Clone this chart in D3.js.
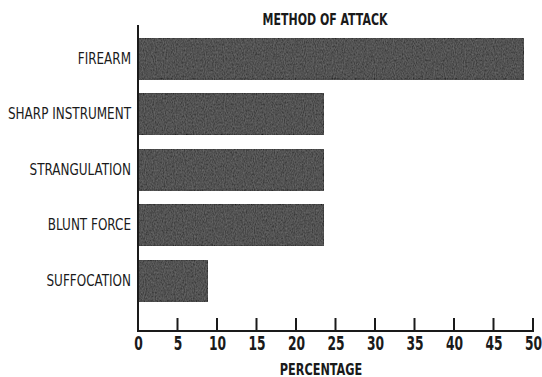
<!DOCTYPE html>
<html>
<head>
<meta charset="utf-8">
<script src="https://cdnjs.cloudflare.com/ajax/libs/d3/7.8.5/d3.min.js"></script>
<style>
  body { margin: 0; background: #fff; }
  svg text { font-family: "DejaVu Sans Condensed", "DejaVu Sans", sans-serif; fill: #1a1a1a; }
</style>
</head>
<body>
<script>
(function(){

    var categories = ["FIREARM", "SHARP INSTRUMENT", "STRANGULATION", "BLUNT FORCE", "SUFFOCATION"];
    var values = [48.8, 23.5, 23.5, 23.5, 8.8];
    var xTicks = [0, 5, 10, 15, 20, 25, 30, 35, 40, 45, 50];

    var width = 542,
        height = 377;

    var svg = d3.select("body")
        .append("svg")
        .attr("width", width)
        .attr("height", height);

    // grainy texture for the bars, like the printed original
    var defs = svg.append("defs");
    var filter = defs.append("filter").attr("id", "grain")
        .attr("x", 0).attr("y", 0).attr("width", 1).attr("height", 1);
    filter.append("feTurbulence")
        .attr("type", "fractalNoise")
        .attr("baseFrequency", "0.9 0.5")
        .attr("numOctaves", 2)
        .attr("seed", 4)
        .attr("result", "noise");
    filter.append("feColorMatrix")
        .attr("in", "noise")
        .attr("type", "matrix")
        .attr("values", "0 0 0 0 0.33  0 0 0 0 0.33  0 0 0 0 0.33  0 0 0 0.5 -0.1")
        .attr("result", "speck");
    filter.append("feComposite")
        .attr("in", "speck")
        .attr("in2", "SourceGraphic")
        .attr("operator", "atop")
        .attr("result", "tex");
    var merge = filter.append("feMerge");
    merge.append("feMergeNode").attr("in", "SourceGraphic");
    merge.append("feMergeNode").attr("in", "tex");

    var x = d3.scaleLinear()
        .domain([0, 50])
        .range([138, 533]);

    var y = d3.scaleBand()
        .domain(categories)
        .range([26.9, 312.2])
        .paddingInner(0.26)
        .paddingOuter(0.2);

    var baseY = 331;

    // squeeze text horizontally to get the narrow poster type
    function narrowText(sel, tx, ty, sx){
        sel.attr("x", 0).attr("y", 0)
            .attr("transform", "translate(" + tx + "," + ty + ") scale(" + sx + ",1)");
    }

    // title
    svg.append("text")
        .attr("text-anchor", "middle")
        .style("font-size", "16.5px")
        .style("font-weight", "bold")
        .text("METHOD OF ATTACK")
        .call(narrowText, 325, 25, 0.74);

    // bars
    svg.selectAll(".bar")
        .data(values)
        .enter()
        .append("rect")
        .attr("class", "bar")
        .attr("x", x(0))
        .attr("y", function(d, i){ return y(categories[i]); })
        .attr("width", function(d){ return x(d) - x(0); })
        .attr("height", y.bandwidth())
        .attr("fill", "#3a3a3a")
        .attr("stroke", "#1e1e1e")
        .attr("stroke-width", 1.2)
        .attr("filter", "url(#grain)");

    // category labels
    svg.selectAll(".cat")
        .data(categories)
        .enter()
        .append("text")
        .attr("class", "cat")
        .attr("dy", "0.36em")
        .attr("text-anchor", "end")
        .style("font-size", "15px")
        .text(function(d){ return d; })
        .each(function(d){
            d3.select(this).call(narrowText, 131, y(d) + y.bandwidth() / 2, 0.89);
        });

    // x axis
    var xAxis = d3.axisBottom(x)
        .tickValues(xTicks)
        .tickSize(0)
        .tickPadding(0);

    var gx = svg.append("g")
        .attr("transform", "translate(0," + baseY + ")")
        .call(xAxis);
    gx.select(".domain").remove();
    gx.selectAll("text")
        .attr("y", 0)
        .attr("dy", 0)
        .attr("transform", "translate(0,18.5) scale(0.72,1)")
        .style("font-size", "19px")
        .style("font-weight", "bold")
        .style("fill", "#1a1a1a");

    // upward tick marks
    svg.selectAll(".tk")
        .data(xTicks.slice(1))
        .enter()
        .append("line")
        .attr("x1", function(d){ return x(d); })
        .attr("x2", function(d){ return x(d); })
        .attr("y1", baseY)
        .attr("y2", baseY - 13)
        .attr("stroke", "#1a1a1a")
        .attr("stroke-width", 2);

    // axis lines
    svg.append("line")
        .attr("x1", x(0) - 1).attr("x2", x(50) + 1)
        .attr("y1", baseY).attr("y2", baseY)
        .attr("stroke", "#1a1a1a")
        .attr("stroke-width", 2);

    svg.append("line")
        .attr("x1", x(0)).attr("x2", x(0))
        .attr("y1", 25).attr("y2", baseY + 1)
        .attr("stroke", "#1a1a1a")
        .attr("stroke-width", 2);

    // x axis title
    svg.append("text")
        .attr("text-anchor", "middle")
        .style("font-size", "16.5px")
        .style("font-weight", "bold")
        .text("PERCENTAGE")
        .call(narrowText, 321, 375, 0.76);

})();
</script>
</body>
</html>
